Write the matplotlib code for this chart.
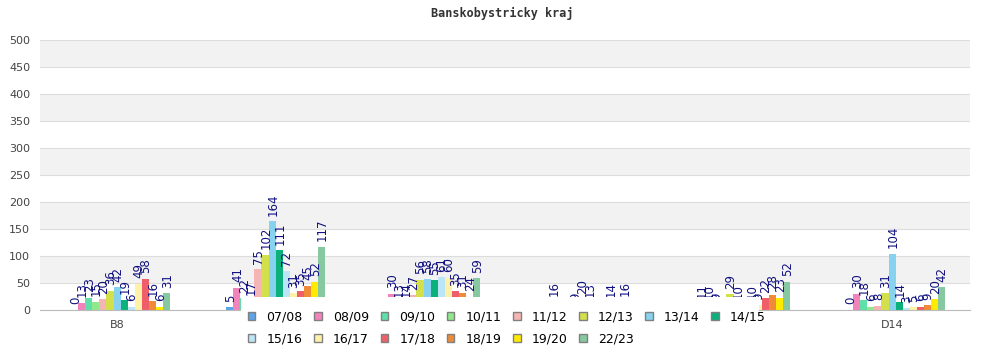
import matplotlib
matplotlib.use("Agg")
import matplotlib.pyplot as plt
from matplotlib.patches import Patch, Rectangle
import numpy as np

# categories (only first and last are visible, the rest sit under the legend)
categories = ["B8", "B9", "C2", "C7", "D3", "D14"]
seasons = ["07/08", "08/09", "09/10", "10/11", "11/12", "12/13", "13/14",
           "14/15", "15/16", "16/17", "17/18", "18/19", "19/20", "22/23"]
colors = ["#5aa5e8", "#f283bb", "#5fe0a8", "#8fe88a", "#f5b5b5", "#d4e04b",
          "#87d3ef", "#0cb07a", "#bde5f8", "#fff1a8", "#ef5f6a", "#ef8a39",
          "#ffea00", "#86c9a0"]

# values per season, one entry per category
v0708 = [0, 5, 0, 0, 0, 0]
v0809 = [13, 41, 30, 2, 11, 30]
v0910 = [23, 22, 13, 16, 10, 18]
v1011 = [15, 17, 14, 1, 9, 6]
v1112 = [20, 75, 27, 1, 7, 8]
v1213 = [36, 102, 56, 9, 29, 31]
v1314 = [42, 164, 58, 20, 10, 104]
v1415 = [19, 111, 55, 13, 3, 14]
v1516 = [6, 72, 61, 1, 10, 3]
v1617 = [49, 31, 60, 3, 9, 5]
v1718 = [58, 35, 35, 14, 22, 6]
v1819 = [16, 45, 31, 2, 28, 9]
v1920 = [6, 52, 24, 16, 23, 20]
v2223 = [31, 117, 59, 2, 52, 42]

series = [v0708, v0809, v0910, v1011, v1112, v1213, v1314,
          v1415, v1516, v1617, v1718, v1819, v1920, v2223]

fig = plt.figure(figsize=(10, 3.5), dpi=100)
ax = fig.add_axes([0.04, 0.1143, 0.93, 0.7714])

# alternating bands
for lo in range(50, 500, 100):
    ax.axhspan(lo, lo + 50, color="#f2f2f2", zorder=0, lw=0)

x = np.arange(len(categories))
n = len(series)
w = 0.0456
for i, (vals, c) in enumerate(zip(series, colors)):
    pos = x + (i - (n - 1) / 2) * w + 0.02
    ax.bar(pos, vals, width=w, color=c, zorder=2, lw=0)
    for p, v in zip(pos, vals):
        ax.annotate(str(v), (p, v), xytext=(0.5, 4), textcoords="offset points",
                    rotation=90, ha="center", va="bottom", fontsize=8.5,
                    color="#101080", zorder=3)

ax.set_xlim(-0.5, len(categories) - 0.5)
ax.set_ylim(0, 500)
ax.set_yticks(range(0, 501, 50))
ax.set_xticks(x)
ax.set_xticklabels(categories)
ax.yaxis.grid(True, color="#dddddd", lw=0.8, zorder=1)
ax.set_axisbelow(True)
ax.tick_params(axis="both", length=0, labelsize=8, colors="#444444", pad=7)
for s in ["top", "right", "left"]:
    ax.spines[s].set_visible(False)
ax.spines["bottom"].set_color("#bbbbbb")

fig.text(0.502, 0.962, "Banskobystricky kraj", fontsize=8.5, fontweight="bold",
         family="DejaVu Sans Mono", color="#333333", ha="center", va="center")

# white legend box overlapping the bottom of the plot
ax.add_patch(Rectangle((0.2405, 0), 0.518, 0.1514, transform=fig.transFigure,
                       facecolor="white", edgecolor="none", zorder=4, clip_on=False))

# legend in row-major order (8 columns)
handles = [Patch(facecolor=c, edgecolor="#808080", lw=1) for c in colors]
order = [0, 8, 1, 9, 2, 10, 3, 11, 4, 12, 5, 13, 6, 7]
leg = ax.legend([handles[k] for k in order], [seasons[k] for k in order],
                ncol=8, loc="upper left", bbox_to_anchor=(0.234, 0.1514),
                bbox_transform=fig.transFigure, fontsize=9, frameon=False,
                borderpad=0.6, handlelength=0.6, handleheight=0.6,
                handletextpad=0.9, columnspacing=0.92, labelspacing=0.7)
leg.set_zorder(10)

fig.savefig("out.png", dpi=100, facecolor="white")
